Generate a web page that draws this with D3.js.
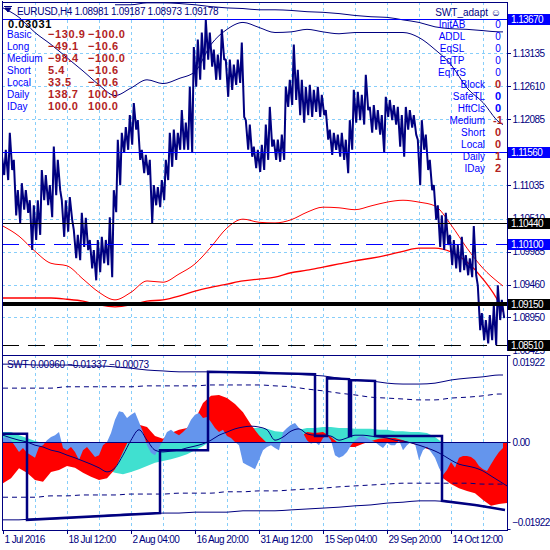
<!DOCTYPE html>
<html>
<head>
<meta charset="utf-8">
<script src="https://cdn.jsdelivr.net/npm/d3@7/dist/d3.min.js"></script>
<style>
html,body{margin:0;padding:0;background:#fff;overflow:hidden}
svg{display:block}
text{font-family:"Liberation Sans",Arial,Helvetica,sans-serif}
</style>
</head>
<body>
<svg id="chart" width="550" height="550"></svg>
<script>
// ================= DATA =================
const symbolName = "EURUSD,H4";
const ohlc = [1.08981, 1.09187, 1.08973, 1.09178];
const dateLabels = ["1 Jul 2016","18 Jul 12:00","2 Aug 04:00","16 Aug 20:00","31 Aug 12:00","15 Sep 04:00","29 Sep 20:00","14 Oct 12:00"];
const dateLabelBars = [0,16,32,48,64,80,96,112];
const gridBars = [8,16,24,32,40,48,56,64,72,80,88,96,104,112,120];
const priceTicks = [1.13135,1.12610,1.12085,1.11560,1.11035,1.10510,1.09985,1.09460,1.08950,1.08425];
const levelPrices = [1.13670,1.11560,1.10440,1.10100,1.09150,1.08510];

// price swings per bar group (high / low)
const priceHigh = [1.1152,1.1160,1.1187,1.1144,1.1096,1.1107,1.1096,1.1080,1.1072,1.1080,
1.1128,1.1120,1.1104,1.1165,1.1144,1.1080,1.1080,1.1085,1.1033,1.1025,
1.1060,1.1052,1.1017,1.1001,1.1017,1.1022,1.1017,1.1053,1.1096,1.1176,
1.1187,1.1196,1.1215,1.1234,1.1207,1.1160,1.1152,1.1144,1.1104,1.1101,
1.1112,1.1144,1.1187,1.1192,1.1187,1.1223,1.1203,1.1260,1.1323,1.1335,
1.1346,1.1366,1.1346,1.1319,1.1311,1.1351,1.1303,1.1303,1.1295,1.1303,
1.1330,1.1207,1.1200,1.1165,1.1160,1.1168,1.1200,1.1228,1.1176,1.1176,
1.1184,1.1260,1.1271,1.1327,1.1287,1.1271,1.1260,1.1263,1.1255,1.1260,
1.1247,1.1223,1.1192,1.1187,1.1184,1.1187,1.1176,1.1207,1.1255,1.1252,
1.1247,1.1279,1.1228,1.1231,1.1223,1.1215,1.1244,1.1239,1.1231,1.1228,
1.1215,1.1228,1.1223,1.1215,1.1176,1.1207,1.1184,1.1144,1.1104,1.1072,
1.1056,1.1060,1.1025,1.1017,1.1009,1.1022,1.0993,1.0988,1.1039,1.0945,
1.0901,1.0890,1.0898,1.0914,1.0945,1.0922];
const priceLow = [1.1120,1.1112,1.1128,1.1056,1.1044,1.1065,1.1060,1.1001,1.1017,1.1025,
1.1080,1.1072,1.1053,1.1088,1.1096,1.1022,1.1030,1.1049,1.0988,1.0985,
1.1006,1.1001,1.0972,1.0953,1.0966,1.0980,1.0977,1.0958,1.1061,1.1104,
1.1155,1.1160,1.1168,1.1192,1.1144,1.1123,1.1120,1.1044,1.1072,1.1069,
1.1080,1.1112,1.1133,1.1144,1.1160,1.1160,1.1160,1.1155,1.1260,1.1271,
1.1287,1.1303,1.1292,1.1271,1.1271,1.1303,1.1244,1.1255,1.1263,1.1266,
1.1212,1.1160,1.1149,1.1131,1.1125,1.1128,1.1144,1.1165,1.1144,1.1141,
1.1144,1.1228,1.1231,1.1239,1.1215,1.1203,1.1215,1.1212,1.1220,1.1212,
1.1215,1.1176,1.1152,1.1160,1.1149,1.1144,1.1123,1.1160,1.1203,1.1207,
1.1200,1.1223,1.1187,1.1192,1.1184,1.1155,1.1212,1.1207,1.1200,1.1165,
1.1149,1.1192,1.1195,1.1184,1.1104,1.1160,1.1128,1.1096,1.1049,1.1006,
1.1001,1.1009,1.0977,1.0972,1.0966,1.0969,1.0961,1.0958,1.0961,1.0874,
1.0858,1.0853,1.0858,1.0850,1.0890,1.0893];

// smooth overlay curves, sampled at these bars
const curveBars = [0,4,8,12,16,20,24,28,32,36,40,44,48,52,56,60,64,68,72,76,80,84,88,92,96,100,104,108,112,116,120,124,125];
const bandTop = [null,null,null,null,null,null,null,1.1390,1.1390,1.1393,1.1393,1.1392,1.1390,1.1387,1.1385,1.1384,1.1382,1.1382,1.1381,1.1379,1.1378,1.1376,1.1373,1.1371,1.1370,1.1366,1.1362,1.1355,1.1352,1.1351,1.1349,1.1347,1.1347];
const bandMid = [1.1385,1.1370,1.1346,1.1327,1.1306,1.1285,1.1263,1.1246,1.1258,1.1271,1.1265,1.1273,1.1284,1.1327,1.1351,1.1362,1.1354,1.1346,1.1347,1.1351,1.1347,1.1344,1.1346,1.1346,1.1346,1.1346,1.1338,1.1319,1.1295,1.1258,1.1235,1.1204,1.1200];
const maFast = [1.1039,1.1023,1.0999,1.0980,1.0976,1.0955,1.0934,1.0922,1.0934,1.0952,1.0950,1.0963,1.0979,1.1006,1.1036,1.1050,1.1045,1.1044,1.1049,1.1061,1.1069,1.1068,1.1065,1.1071,1.1077,1.1080,1.1077,1.1071,1.1041,1.1004,1.0972,1.0949,1.0944];
const maSlow = [1.0925,1.0925,1.0925,1.0925,1.0923,1.0920,1.0914,1.0911,1.0914,1.0920,1.0922,1.0928,1.0936,1.0942,1.0947,1.0952,1.0955,1.0958,1.0965,1.0969,1.0974,1.0979,1.0984,1.0988,1.0993,1.0999,1.1004,1.1004,1.0998,1.0982,1.0955,1.0917,1.0903];

// info panels
const infoTotal = 0.03031;
const infoLabels = ["Basic","Long","Medium","Short","Local","Daily","IDay"];
const infoCol1 = [-130.9,-49.1,-98.4,5.4,33.5,138.7,100.0];
const infoCol2 = [-100.0,-10.6,-100.0,-10.6,-10.6,100.0,100.0];
const statusTitle = "SWT_adapt";
const statusLabels = ["InitAB","ADDL","EqSL","EqTP","EqTrS","Block","SafeTL","HftCls","Medium","Short","Local","Daily","IDay"];
const statusValues = [0,0,0,0,0,0,0,0,-1,0,0,1,2];

// SWT sub-window
const swtName = "SWT";
const swtHeader = [0.00960,-0.01337,-0.00073];
const swtTicks = [0.01922,0.00,-0.01922];
const swtBlue = [0.0009,0.0011,0.0004,-0.0009,-0.0022,-0.0013,-0.0024,-0.0029,-0.0035,-0.0011,
-0.0007,0.0004,0.0011,0.0015,0.0022,-0.0013,-0.0018,-0.0011,-0.0022,-0.0040,
-0.0018,-0.0011,-0.0022,-0.0033,-0.0029,-0.0007,0.0000,0.0020,0.0049,0.0068,
0.0066,0.0053,0.0060,0.0066,0.0044,0.0022,-0.0007,-0.0024,-0.0029,-0.0013,
0.0004,0.0022,0.0027,0.0020,0.0015,0.0022,0.0031,0.0049,0.0060,0.0064,
0.0053,0.0055,0.0044,0.0031,0.0022,0.0027,0.0013,0.0009,0.0000,-0.0007,
-0.0046,-0.0051,-0.0055,-0.0060,-0.0040,-0.0018,-0.0011,-0.0007,-0.0013,-0.0018,
0.0022,0.0031,0.0038,0.0042,0.0031,0.0020,0.0004,-0.0004,0.0000,-0.0007,
0.0009,0.0015,0.0004,-0.0029,-0.0035,-0.0031,-0.0022,-0.0007,0.0004,0.0011,
0.0013,0.0009,0.0004,0.0000,-0.0007,-0.0013,-0.0002,-0.0007,-0.0007,0.0004,
-0.0018,-0.0007,0.0000,-0.0004,-0.0040,-0.0018,-0.0011,-0.0022,-0.0035,-0.0057,
-0.0073,-0.0062,-0.0044,-0.0057,-0.0035,-0.0031,-0.0031,-0.0033,-0.0040,-0.0053,
-0.0060,-0.0064,-0.0049,-0.0035,-0.0022,-0.0013];
const swtRed = [-0.0091,-0.0080,-0.0058,-0.0068,-0.0084,-0.0088,-0.0066,-0.0062,-0.0053,-0.0057,
-0.0068,-0.0077,-0.0084,-0.0080,-0.0060,-0.0022,0.0015,0.0038,0.0033,0.0013,
0.0007,0.0020,0.0027,0.0031,0.0049,0.0086,0.0102,0.0104,0.0097,0.0084,
0.0066,0.0038,0.0015,-0.0002,0.0000,0.0000,0.0002,0.0009,0.0022,0.0020,
0.0022,0.0011,-0.0004,-0.0011,-0.0011,-0.0004,0.0002,0.0007,0.0009,0.0009,
0.0004,-0.0002,-0.0009,-0.0015,-0.0022,-0.0080,-0.0093,-0.0102,-0.0108,-0.0113,
-0.0128,-0.0141,-0.0137,-0.0135];
const swtCyan = [0.0022,0.0022,0.0015,0.0009,0.0002,-0.0002,-0.0007,-0.0013,-0.0020,-0.0029,
-0.0035,-0.0044,-0.0053,-0.0062,-0.0068,-0.0071,-0.0066,-0.0060,-0.0053,-0.0046,
-0.0042,-0.0038,-0.0033,-0.0027,-0.0018,-0.0009,0.0002,0.0013,0.0022,0.0027,
0.0029,0.0031,0.0031,0.0029,0.0024,0.0022,0.0022,0.0027,0.0031,0.0031,
0.0033,0.0033,0.0031,0.0031,0.0029,0.0029,0.0029,0.0027,0.0027,0.0024,
0.0024,0.0022,0.0022,0.0020,0.0011,-0.0002,-0.0007,-0.0011,-0.0015,-0.0020,
-0.0024,-0.0029,-0.0033,-0.0038];
const swtSignal = [0.0015,0.0009,0.0004,0.0000,-0.0007,-0.0011,-0.0018,-0.0022,-0.0029,-0.0035,
-0.0042,-0.0049,-0.0057,-0.0066,-0.0057,-0.0029,0.0004,0.0027,0.0004,-0.0018,
-0.0022,-0.0020,-0.0018,-0.0013,-0.0009,-0.0004,0.0004,0.0015,0.0022,0.0029,
0.0033,0.0035,0.0033,0.0027,0.0004,0.0011,0.0024,0.0029,0.0018,0.0015,
0.0015,0.0013,0.0004,0.0009,0.0015,0.0015,0.0013,0.0011,0.0009,0.0004,
0.0002,-0.0002,-0.0007,-0.0013,-0.0020,-0.0029,-0.0040,-0.0049,-0.0053,-0.0057,
-0.0064,-0.0075,-0.0086,-0.0097];
const swtUpper = [0.0172,0.0172,0.0170,0.0170,0.0170,0.0168,0.0168,0.0166,0.0163,0.0159,0.0157,0.0155,0.0155,0.0155,0.0155,0.0155,0.0155,0.0152,0.0150,0.0148,0.0146,0.0141,0.0137,0.0135,0.0130,0.0128,0.0128,0.0130,0.0137,0.0141,0.0144,0.0148,0.0148];
const swtLower = [-0.0172,-0.0172,-0.0170,-0.0170,-0.0168,-0.0166,-0.0163,-0.0161,-0.0159,-0.0159,-0.0157,-0.0157,-0.0155,-0.0155,-0.0155,-0.0152,-0.0152,-0.0152,-0.0150,-0.0148,-0.0146,-0.0144,-0.0141,-0.0139,-0.0135,-0.0133,-0.0130,-0.0130,-0.0133,-0.0137,-0.0141,-0.0148,-0.0150];
const swtUpperInner = [0.0119,0.0119,0.0119,0.0119,0.0122,0.0122,0.0122,0.0122,0.0122,0.0124,0.0124,0.0124,0.0124,0.0126,0.0126,0.0126,0.0126,0.0124,0.0122,0.0117,0.0113,0.0108,0.0104,0.0099,0.0097,0.0095,0.0093,0.0093,0.0097,0.0099,0.0102,0.0106,0.0106];
const swtLowerInner = [-0.0122,-0.0122,-0.0122,-0.0119,-0.0119,-0.0117,-0.0117,-0.0117,-0.0115,-0.0115,-0.0115,-0.0113,-0.0113,-0.0113,-0.0110,-0.0110,-0.0108,-0.0108,-0.0106,-0.0104,-0.0102,-0.0099,-0.0097,-0.0095,-0.0093,-0.0091,-0.0091,-0.0091,-0.0091,-0.0091,-0.0093,-0.0093,-0.0093];
const stepBars = [0,6,6,39.25,39.25,51.25,51.25,68,78,78,81,81,86.5,86.5,87,87,93,93,109.75,109.75,118,125.5];
const stepValues = [0.0018,0.0018,-0.0172,-0.0157,-0.0018,-0.0018,0.0155,0.0152,0.0150,0.0013,0.0013,0.0141,0.0139,0.0013,0.0013,0.0137,0.0135,0.0013,0.0013,-0.0130,-0.0139,-0.0150];

// ================= DRAWING =================
const svg = d3.select("#chart");
const NAVY = "#000080", GRID = "#87CEFA", BLUE = "#0000ff", DRED = "#b22222";
const PL = 2, PR = 507, MT = 2, MB = 350, ST = 355, SB = 530;

const x = d3.scaleLinear().domain([0,126]).range([3,507]);
const yP = d3.scaleLinear().domain([1.08425,1.13135]).range([350,53]);
const yS = d3.scaleLinear().domain([-0.01922,0.01922]).range([529,355]);
const px = v => Math.round(v) + 0.5;

svg.append("rect").attr("width",550).attr("height",550).attr("fill","#fff");
const defs = svg.append("defs");
defs.append("clipPath").attr("id","cm").append("rect").attr("x",PL).attr("y",MT).attr("width",PR-PL).attr("height",MB-MT);
defs.append("clipPath").attr("id","cs").append("rect").attr("x",PL).attr("y",ST).attr("width",PR-PL).attr("height",SB-ST);

// ---- main window ----
const gm = svg.append("g").attr("clip-path","url(#cm)");
gm.append("g").selectAll("line").data(gridBars).join("line")
  .attr("x1",d=>px(x(d))).attr("x2",d=>px(x(d))).attr("y1",MT).attr("y2",MB)
  .attr("stroke",GRID).attr("stroke-dasharray","3,3").attr("shape-rendering","crispEdges");
gm.append("g").selectAll("line").data(priceTicks).join("line")
  .attr("x1",PL).attr("x2",PR).attr("y1",d=>px(yP(d))).attr("y2",d=>px(yP(d)))
  .attr("stroke",GRID).attr("stroke-dasharray","3,3").attr("shape-rendering","crispEdges");

const curveLine = (sc) => d3.line().defined(d=>d[1]!=null).x(d=>x(d[0])).y(d=>sc(d[1])).curve(d3.curveMonotoneX);
const zipC = arr => curveBars.map((b,i)=>[b,arr[i]]);

gm.append("path").attr("d",curveLine(yP)(zipC(maSlow))).attr("fill","none").attr("stroke","#ff0000").attr("stroke-width",1.3);
gm.append("path").attr("d",curveLine(yP)(zipC(maFast))).attr("fill","none").attr("stroke","#ff0000").attr("stroke-width",1);
gm.append("path").attr("d",curveLine(yP)(zipC(bandTop))).attr("fill","none").attr("stroke",NAVY).attr("stroke-width",1);
gm.append("path").attr("d",curveLine(yP)(zipC(bandMid))).attr("fill","none").attr("stroke",NAVY).attr("stroke-width",1);

const pricePts = [];
priceHigh.forEach((h,i)=>{ pricePts.push([i-0.3,h]); pricePts.push([i+0.3,priceLow[i]]); });
gm.append("path").attr("d",d3.line().x(d=>x(d[0])).y(d=>yP(d[1]))(pricePts))
  .attr("fill","none").attr("stroke",NAVY).attr("stroke-width",2).attr("stroke-linejoin","bevel");

// level lines
const levelColor = ["#0000ff","#0000ff","#000000","#0000ff","#000000","#000000"];
const levelWidth = [1,1,1,1,4,1];
const levelDash = [null,null,null,"17,9",null,"17,9"];
gm.append("g").selectAll("line").data(levelPrices).join("line")
  .attr("x1",PL).attr("x2",PR)
  .attr("y1",(d,i)=> levelWidth[i]%2 ? px(yP(d)) : Math.round(yP(d)))
  .attr("y2",(d,i)=> levelWidth[i]%2 ? px(yP(d)) : Math.round(yP(d)))
  .attr("stroke",(d,i)=>levelColor[i]).attr("stroke-width",(d,i)=>levelWidth[i])
  .attr("stroke-dasharray",(d,i)=>levelDash[i]).attr("shape-rendering","crispEdges");

// header
const hdr = svg.append("g");
hdr.append("path").attr("d","M4,6.5 L12,6.5 M5,8 L11,8 L8,12 Z").attr("stroke",NAVY).attr("fill",NAVY).attr("stroke-width",1);
hdr.append("text").attr("x",17).attr("y",14.5).attr("fill",NAVY).style("font-size","10px").style("letter-spacing","-0.3px")
  .text(symbolName + "  " + ohlc.map(d3.format(".5f")).join(" "));

// left info block
const info = svg.append("g");
info.append("text").attr("x",8).attr("y",27.5).attr("fill","#000").style("font-size","11px").style("font-weight","bold").style("letter-spacing","0.6px")
  .text(d3.format(".5f")(infoTotal));
info.selectAll(".il").data(infoLabels).join("text").attr("class","il")
  .attr("x",7).attr("y",(d,i)=>38+12*i).attr("fill",BLUE).style("font-size","10px").text(d=>d);
info.selectAll(".v1").data(infoCol1).join("text").attr("class","v1")
  .attr("x",48).attr("y",(d,i)=>38+12*i).attr("fill",DRED).style("font-size","11px").style("font-weight","bold").style("letter-spacing","0.6px")
  .text(d=>d3.format(".1f")(d));
info.selectAll(".v2").data(infoCol2).join("text").attr("class","v2")
  .attr("x",88).attr("y",(d,i)=>38+12*i).attr("fill",DRED).style("font-size","11px").style("font-weight","bold").style("letter-spacing","0.6px")
  .text(d=>d3.format(".1f")(d));

// right status block
const st = svg.append("g");
st.append("text").attr("x",501).attr("y",15.5).attr("text-anchor","end").attr("fill",NAVY).style("font-size","10px")
  .text(statusTitle + " \u263A");
st.selectAll(".sl").data(statusLabels).join("text").attr("class","sl")
  .attr("x",(d,i)=> i<5 ? 452 : 485).attr("text-anchor",(d,i)=> i<5 ? "middle" : "end")
  .attr("y",(d,i)=>28+12*i).attr("fill",BLUE).style("font-size","10px").text(d=>d);
const stColor = (d,i)=> (i<5 || i===6 || i===7) ? BLUE : DRED;
st.selectAll(".sv").data(statusValues).join("text").attr("class","sv")
  .attr("x",498).attr("y",(d,i)=>28+12*i).attr("text-anchor","middle")
  .attr("fill",stColor).style("font-size",(d,i)=> i<5 ? "10px" : "11px")
  .style("font-weight",(d,i)=> i<5 ? "normal" : "bold").text(d=>d);

// ---- sub window ----
const gs = svg.append("g").attr("clip-path","url(#cs)");
gs.append("g").selectAll("line").data(gridBars).join("line")
  .attr("x1",d=>px(x(d))).attr("x2",d=>px(x(d))).attr("y1",ST).attr("y2",SB)
  .attr("stroke",GRID).attr("stroke-dasharray","3,3").attr("shape-rendering","crispEdges");

const area = d3.area().x(d=>x(d[0])).y0(yS(0)).y1(d=>yS(d[1]));
const zip2 = arr => arr.map((v,k)=>[2*k,v]);
gs.append("path").attr("d",area(zip2(swtCyan))).attr("fill","#40e0d0");
gs.append("path").attr("d",area(zip2(swtRed))).attr("fill","#ff0000");
gs.append("path").attr("d",area(swtBlue.map((v,i)=>[i,v]))).attr("fill","#6495ed");

gs.append("line").attr("x1",PL).attr("x2",PR).attr("y1",px(yS(0))).attr("y2",px(yS(0)))
  .attr("stroke",NAVY).attr("stroke-width",1).attr("shape-rendering","crispEdges");

const sLine = d3.line().x(d=>x(d[0])).y(d=>yS(d[1])).curve(d3.curveMonotoneX);
gs.append("path").attr("d",sLine(zipC(swtUpper))).attr("fill","none").attr("stroke",NAVY).attr("stroke-width",1);
gs.append("path").attr("d",sLine(zipC(swtLower))).attr("fill","none").attr("stroke",NAVY).attr("stroke-width",1);
gs.append("path").attr("d",sLine(zipC(swtUpperInner))).attr("fill","none").attr("stroke",NAVY).attr("stroke-width",1).attr("stroke-dasharray","5,4");
gs.append("path").attr("d",sLine(zipC(swtLowerInner))).attr("fill","none").attr("stroke",NAVY).attr("stroke-width",1).attr("stroke-dasharray","5,4");
gs.append("path").attr("d",d3.line().x(d=>x(d[0])).y(d=>yS(d[1])).curve(d3.curveMonotoneX)(zip2(swtSignal)))
  .attr("fill","none").attr("stroke",NAVY).attr("stroke-width",1);
gs.append("path").attr("d",d3.line().x(d=>x(d[0])).y(d=>yS(d[1]))(stepBars.map((b,i)=>[b,stepValues[i]])))
  .attr("fill","none").attr("stroke",NAVY).attr("stroke-width",2.5);

svg.append("text").attr("x",7).attr("y",368).attr("fill",NAVY).style("font-size","10px").style("letter-spacing","-0.3px")
  .text(swtName + "  " + swtHeader.map(d3.format(".5f")).join(" "));

// ---- frames ----
const fr = svg.append("g").attr("stroke",NAVY).attr("stroke-width",1).attr("shape-rendering","crispEdges").attr("fill","none");
fr.append("line").attr("x1",2.5).attr("x2",2.5).attr("y1",1).attr("y2",SB);
fr.append("line").attr("x1",2).attr("x2",PR).attr("y1",2.5).attr("y2",2.5);
fr.append("line").attr("x1",2).attr("x2",PR).attr("y1",ST+0.5).attr("y2",ST+0.5);
fr.append("line").attr("x1",2).attr("x2",PR).attr("y1",SB+0.5).attr("y2",SB+0.5);
fr.append("line").attr("x1",PR+0.5).attr("x2",PR+0.5).attr("y1",2).attr("y2",MB+1);
fr.append("line").attr("x1",PR+0.5).attr("x2",PR+0.5).attr("y1",ST).attr("y2",SB+1);

// ---- axes ----
const axP = svg.append("g").attr("transform",`translate(${PR+0.5},0)`)
  .call(d3.axisRight(yP).tickValues(priceTicks).tickFormat(d3.format(".5f")).tickSize(3).tickPadding(2));
axP.select(".domain").remove();
axP.selectAll("line").attr("stroke",NAVY).attr("shape-rendering","crispEdges");
axP.selectAll("text").attr("fill",NAVY).style("font-size","10px").style("letter-spacing","-0.6px");

// level boxes on the price axis
const levelBox = ["#0000ff","#0000ff","#000000","#0000ff","#000000","#000000"];
const lb = svg.append("g");
lb.selectAll("rect").data(levelPrices).join("rect")
  .attr("x",PR+1).attr("y",d=>Math.round(yP(d))-5).attr("width",42).attr("height",11)
  .attr("fill",(d,i)=>levelBox[i]);
lb.selectAll("text").data(levelPrices).join("text")
  .attr("x",PR+4).attr("y",d=>Math.round(yP(d))+4).attr("fill","#fff")
  .style("font-size","10px").style("letter-spacing","-0.6px").text(d=>d3.format(".5f")(d));

const axS = svg.append("g").attr("transform",`translate(${PR+0.5},0)`)
  .call(d3.axisRight(yS).tickValues(swtTicks).tickFormat(d=> d===0 ? "0.00" : d3.format(".5f")(d)).tickSize(3).tickPadding(2));
axS.select(".domain").remove();
axS.selectAll("line").attr("stroke",NAVY);
axS.selectAll("text").attr("fill",NAVY).style("font-size","10px").style("letter-spacing","-0.6px")
  .attr("dy",d=> d>0 ? "1.05em" : (d<0 ? "-0.35em" : "0.32em"));

const axT = svg.append("g").attr("transform",`translate(0,${SB+0.5})`)
  .call(d3.axisBottom(x).tickValues(dateLabelBars).tickFormat((d,i)=>dateLabels[i]).tickSize(3).tickPadding(2));
axT.select(".domain").remove();
axT.selectAll("line").attr("stroke",NAVY).attr("shape-rendering","crispEdges");
axT.selectAll("text").attr("fill",NAVY).attr("text-anchor","start").attr("dx","1")
  .style("font-size","10px").style("letter-spacing","-0.6px");
</script>
</body>
</html>
